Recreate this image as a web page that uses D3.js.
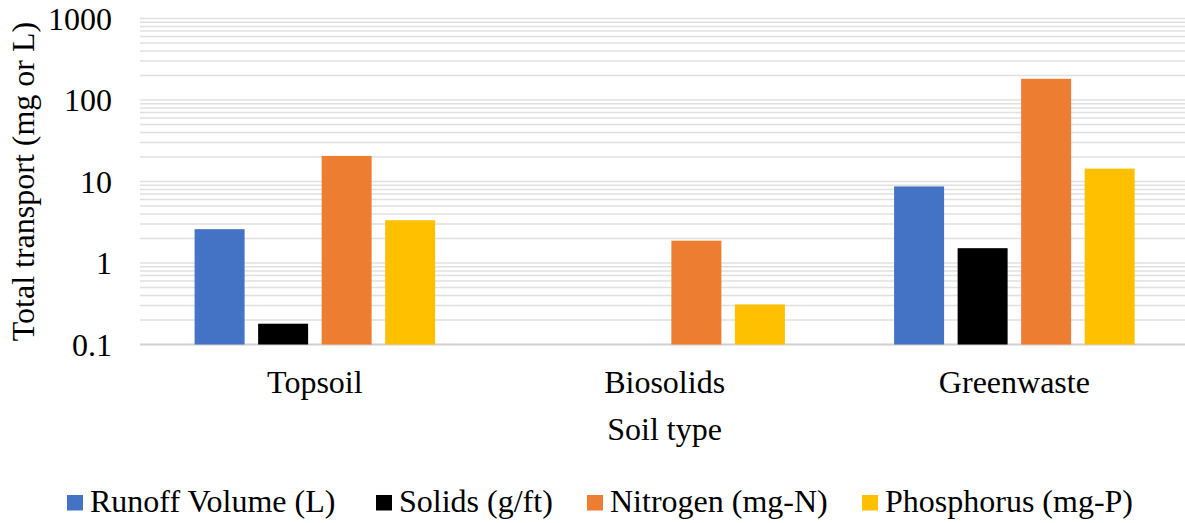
<!DOCTYPE html>
<html>
<head>
<meta charset="utf-8">
<script src="https://cdn.jsdelivr.net/npm/d3@7"></script>
<style>
  html, body { margin: 0; padding: 0; background: #fff; }
  svg { display: block; }
</style>
</head>
<body>
<svg id="chart" width="1185" height="523"></svg>
<script>
const categories = ["Topsoil", "Biosolids", "Greenwaste"];
const seriesNames = ["Runoff Volume (L)", "Solids (g/ft)", "Nitrogen (mg-N)", "Phosphorus (mg-P)"];
const seriesColors = ["#4472C4", "#000000", "#ED7D31", "#FFC000"];
const runoffVolume = [2.6, null, 8.7];
const solids = [0.18, null, 1.52];
const nitrogen = [20.6, 1.88, 182];
const phosphorus = [3.35, 0.31, 14.4];
const yTicks = [0.1, 1, 10, 100, 1000];
const yTickLabels = ["0.1", "1", "10", "100", "1000"];
const yTitle = "Total transport (mg or L)";
const xTitle = "Soil type";

const seriesValues = [runoffVolume, solids, nitrogen, phosphorus];

// pick an installed serif font
const ctx = document.createElement("canvas").getContext("2d");
function w(font, s) { ctx.font = "40px " + font; return ctx.measureText(s).width; }
const probe = "Runoff Volume (L) mmmwwwlli 0123";
const candidates = ["Liberation Serif", "Times New Roman", "Tinos", "Noto Serif", "DejaVu Serif"];
let chosen = null;
for (const c of candidates) {
  const a = w(`'${c}', monospace`, probe), b = w(`'${c}', sans-serif`, probe);
  if (Math.abs(a - b) < 0.01) { chosen = c; break; }
}
const FONT = chosen ? `'${chosen}', serif` : "serif";
// size so the legend label width matches the reference (~248px)
ctx.font = "100px " + FONT;
let fontSize = 248 / ctx.measureText("Runoff Volume (L)").width * 100;
fontSize = Math.min(32, fontSize);

const svg = d3.select("#chart").attr("font-family", FONT);
const plot = { left: 140, right: 1189.25, top: 18.5, bottom: 344.5 };

const y = d3.scaleLog().domain([0.1, 1000]).range([plot.bottom, plot.top]);
const x0 = d3.scaleBand().domain(categories).range([plot.left, plot.right]).padding(0);
const bw = x0.bandwidth();
const groupOffset = 54.6;
const x1 = d3.scaleBand().domain(seriesNames).range([groupOffset, bw - groupOffset])
  .paddingInner(0.213).paddingOuter(0);

// gridlines (major + minor)
const gridVals = [];
for (let e = -1; e < 3; e++) {
  for (let m = 1; m <= 9; m++) gridVals.push(m * Math.pow(10, e));
}
gridVals.push(1000);
svg.append("g").selectAll("line").data(gridVals).join("line")
  .attr("x1", plot.left).attr("x2", plot.right)
  .attr("y1", d => y(d)).attr("y2", d => y(d))
  .attr("stroke", d => (d === 0.1 ? "#d0d0d0" : "#e0e0e0"))
  .attr("stroke-width", d => (d === 0.1 ? 2 : 1.5));

// bars
const barData = [];
categories.forEach((c, ci) => {
  seriesNames.forEach((s, si) => {
    const v = seriesValues[si][ci];
    if (v != null) barData.push({ c, s, si, v });
  });
});
svg.append("g").selectAll("rect").data(barData).join("rect")
  .attr("x", d => x0(d.c) + x1(d.s))
  .attr("width", x1.bandwidth())
  .attr("y", d => y(d.v))
  .attr("height", d => y(0.1) - y(d.v))
  .attr("fill", d => seriesColors[d.si]);

// y axis labels
svg.append("g").selectAll("text").data(yTicks).join("text")
  .attr("x", 112).attr("y", d => y(d))
  .attr("dy", "0.35em")
  .attr("text-anchor", "end")
  .attr("font-family", FONT)
  .attr("font-size", fontSize)
  .text((d, i) => yTickLabels[i]);

// category labels
svg.append("g").selectAll("text").data(categories).join("text")
  .attr("x", d => x0(d) + bw / 2).attr("y", 393)
  .attr("text-anchor", "middle")
  .attr("font-family", FONT)
  .attr("font-size", fontSize)
  .text(d => d);

// x title
svg.append("text")
  .attr("x", x0.range()[0] + (categories.length * bw) / 2).attr("y", 440)
  .attr("text-anchor", "middle").attr("font-size", fontSize)
  .attr("font-family", FONT)
  .text(xTitle);

// y title
svg.append("text")
  .attr("transform", `translate(34, ${(plot.top + plot.bottom) / 2}) rotate(-90)`)
  .attr("text-anchor", "middle").attr("font-size", fontSize)
  .attr("font-family", FONT)
  .text(yTitle);

// legend
const legendX = [67, 376, 587, 862];
const legend = svg.append("g").selectAll("g").data(seriesNames).join("g")
  .attr("transform", (d, i) => `translate(${legendX[i]}, 0)`);
legend.append("rect").attr("x", 0).attr("y", 495).attr("width", 16).attr("height", 15.5)
  .attr("fill", (d, i) => seriesColors[i]);
legend.append("text").attr("x", 23).attr("y", 512)
  .attr("font-family", FONT)
  .attr("font-size", fontSize).text(d => d);
</script>
</body>
</html>
